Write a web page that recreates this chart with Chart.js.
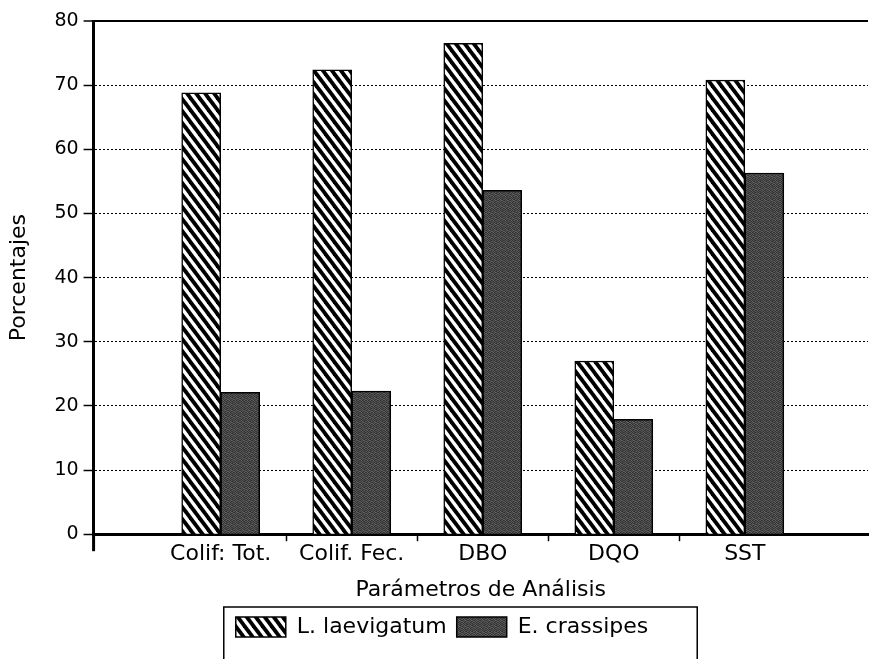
<!DOCTYPE html>
<html>
<head>
<meta charset="utf-8">
<script src="https://cdn.jsdelivr.net/npm/chart.js@4/dist/chart.umd.min.js"></script>
<style>
  html, body { margin: 0; padding: 0; background: #ffffff; }
  #wrap { position: relative; width: 870px; height: 659px; }
</style>
</head>
<body>
<div id="wrap"><canvas id="c"></canvas></div>
<script>
// ---- data ----
const categories = ['Colif: Tot.', 'Colif. Fec.', 'DBO', 'DQO', 'SST'];
const laevigatum = [68.8, 72.4, 76.5, 27.0, 70.8];
const crassipes  = [22.1, 22.3, 53.6, 17.9, 56.3];
const seriesNames = ['L. laevigatum', 'E. crassipes'];
const yTicks = [0, 10, 20, 30, 40, 50, 60, 70, 80];
const xTitle = 'Parámetros de Análisis';
const yTitle = 'Porcentajes';

// ---- styles ----
const FONT = 'DejaVu Sans';

function hatchPattern() {
  const w = 9, h = 12;
  const c = document.createElement('canvas');
  c.width = w; c.height = h;
  const g = c.getContext('2d');
  g.fillStyle = '#ffffff';
  g.fillRect(0, 0, w, h);
  g.strokeStyle = '#000000';
  g.lineWidth = 3.8;
  for (let k = -2; k <= 2; k++) {
    g.beginPath();
    g.moveTo(k * w - w, -h);
    g.lineTo(k * w + 2 * w, 2 * h);
    g.stroke();
  }
  return g.createPattern(c, 'repeat');
}

function stipplePattern() {
  const levels = [
    [60, 92, 48, 80, 68, 54],
    [86, 52, 98, 58, 44, 88],
    [48, 78, 64, 104, 82, 56],
    [94, 58, 84, 50, 62, 96],
    [56, 100, 44, 76, 90, 48],
    [80, 50, 90, 60, 54, 84]
  ];
  const c = document.createElement('canvas');
  c.width = 6; c.height = 6;
  const g = c.getContext('2d');
  for (let y = 0; y < 6; y++) {
    for (let x = 0; x < 6; x++) {
      const v = levels[y][x];
      g.fillStyle = 'rgb(' + v + ',' + v + ',' + v + ')';
      g.fillRect(x, y, 1, 1);
    }
  }
  return g.createPattern(c, 'repeat');
}

const yMax = yTicks[yTicks.length - 1];

// x tick positions: category centres and the boundaries between them
function buildXTicks(scale) {
  const t = [];
  for (let i = 0; i < categories.length; i++) {
    t.push({ value: i + 1 });
    if (i < categories.length - 1) t.push({ value: i + 1.5 });
  }
  scale.ticks = t;
}

const axisExtension = {
  id: 'axisExtension',
  afterDraw(chart) {
    const { ctx, chartArea } = chart;
    ctx.save();
    ctx.strokeStyle = '#000';
    ctx.lineWidth = 3;
    ctx.beginPath();
    ctx.moveTo(chartArea.left, chartArea.bottom);
    ctx.lineTo(chartArea.left, chartArea.bottom + 17);
    ctx.stroke();
    ctx.restore();
  }
};

const legendFrame = {
  id: 'legendFrame',
  afterDraw(chart) {
    const lg = chart.legend;
    if (!lg || !lg.legendHitBoxes || !lg.legendHitBoxes.length) return;
    const hb = lg.legendHitBoxes;
    const first = hb[0], last = hb[hb.length - 1];
    const x1 = first.left - 12;
    const x2 = last.left + last.width + 49;
    const y1 = first.top - 9;
    const ctx = chart.ctx;
    ctx.save();
    ctx.strokeStyle = '#000';
    ctx.lineWidth = 1.5;
    ctx.beginPath();
    ctx.moveTo(x1, chart.height + 5);
    ctx.lineTo(x1, y1);
    ctx.lineTo(x2, y1);
    ctx.lineTo(x2, chart.height + 5);
    ctx.stroke();
    ctx.restore();
  }
};

const legendShift = {
  id: 'legendShift',
  afterLayout(chart) {
    const lg = chart.legend;
    if (!lg) return;
    lg.left += 8;
    lg.right += 8;
  }
};

new Chart(document.getElementById('c'), {
  type: 'bar',
  data: {
    datasets: [
      {
        label: seriesNames[0],
        data: laevigatum.map((v, i) => ({ x: i + 1, y: v })),
        backgroundColor: hatchPattern(),
        borderColor: '#000',
        borderWidth: 1.5,
        barThickness: 39
      },
      {
        label: seriesNames[1],
        data: crassipes.map((v, i) => ({ x: i + 1, y: v })),
        backgroundColor: stipplePattern(),
        borderColor: '#000',
        borderWidth: 1.5,
        barThickness: 39
      }
    ]
  },
  options: {
    responsive: true,
    maintainAspectRatio: false,
    animation: false,
    layout: { padding: { top: 21, right: 2, bottom: 11, left: 0 } },
    scales: {
      x: {
        type: 'linear',
        offset: false,
        min: 0.03,
        max: 5.94,
        afterBuildTicks: buildXTicks,
        ticks: {
          autoSkip: false,
          maxRotation: 0,
          padding: 0,
          color: '#000',
          font: { family: FONT, size: 22 },
          callback: (v) => Number.isInteger(v) && v >= 1 && v <= categories.length ? categories[v - 1] : ''
        },
        grid: {
          offset: false,
          drawOnChartArea: false,
          drawTicks: true,
          tickLength: 7,
          tickWidth: 1.5,
          tickColor: (c) => (c.tick && !Number.isInteger(c.tick.value)) ? '#000' : 'rgba(0,0,0,0)'
        },
        border: { display: true, color: '#000', width: 3 },
        title: {
          display: true,
          text: xTitle,
          color: '#000',
          font: { family: FONT, size: 22 },
          padding: { top: 9, bottom: 3 }
        }
      },
      y: {
        min: 0,
        max: yMax,
        afterBuildTicks: (s) => { s.ticks = yTicks.map(v => ({ value: v })); },
        ticks: {
          padding: 5,
          color: '#000',
          font: { family: FONT, size: 19 }
        },
        grid: {
          color: '#000',
          lineWidth: (c) => (c.tick && c.tick.value === yMax) ? 2 : 1,
          tickLength: 10,
          tickWidth: 1.5,
          tickColor: '#000'
        },
        border: {
          display: true,
          color: '#000',
          width: 3,
          dash: (c) => (c.tick && c.tick.value !== yMax && c.tick.value !== 0) ? [2, 2] : []
        },
        title: {
          display: true,
          text: yTitle,
          color: '#000',
          font: { family: FONT, size: 22 },
          padding: { top: 6, bottom: 17 }
        }
      }
    },
    plugins: {
      legend: {
        position: 'bottom',
        labels: {
          boxWidth: 50,
          boxHeight: 20,
          padding: 10,
          color: '#000',
          font: { family: FONT, size: 22 }
        }
      },
      tooltip: { enabled: false }
    }
  },
  plugins: [axisExtension, legendFrame, legendShift]
});
</script>
</body>
</html>
